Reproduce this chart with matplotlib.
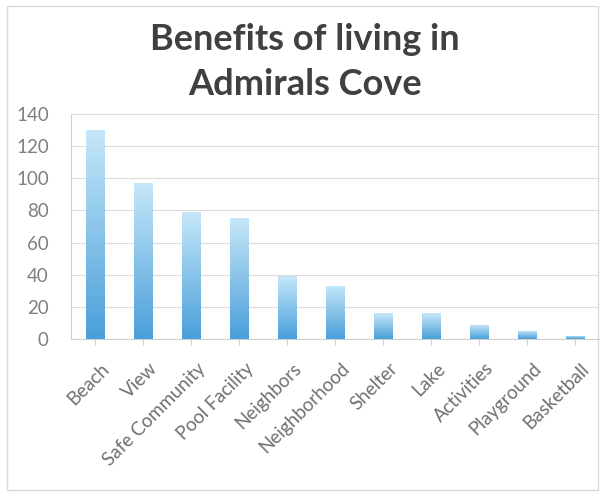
import numpy as np
import matplotlib
matplotlib.use('Agg')
import matplotlib.pyplot as plt
import matplotlib.transforms as mtransforms
from matplotlib.colors import LinearSegmentedColormap
from matplotlib.patches import Rectangle

# Data
categories = ['Beach', 'View', 'Safe Community', 'Pool Facility', 'Neighbors',
              'Neighborhood', 'Shelter', 'Lake', 'Activities', 'Playground', 'Basketball']
values = [130, 97, 79, 75, 39, 33, 16, 16, 9, 5, 2]
y_ticks = [0, 20, 40, 60, 80, 100, 120, 140]

plt.rcParams['font.family'] = ['Lato', 'DejaVu Sans']

W, H = 601, 493
fig = plt.figure(figsize=(W / 100, H / 100), dpi=100)
ax = fig.add_axes([71 / W, 1 - 339 / H, 528 / W, 225 / H])

# chart border
fig.patches.append(Rectangle((7 / W, 3 / H), 591 / W, 484 / H,
                             transform=fig.transFigure, fill=False,
                             edgecolor='#d9d9d9', linewidth=1))

x = np.arange(len(categories))
bars = ax.bar(x, values, width=0.39, color='none', edgecolor='none', zorder=3)

# vertical gradient fill, light at top and darker at bottom
cmap = LinearSegmentedColormap.from_list('blues', ['#4a9fda', '#c6e7f8'])
grad = np.linspace(0, 1, 256).reshape(-1, 1)
for b in bars:
    x0, y0 = b.get_x(), b.get_y()
    w, h = b.get_width(), b.get_height()
    im = ax.imshow(grad, cmap=cmap, origin='lower', aspect='auto',
                   extent=(x0, x0 + w, y0, y0 + h), zorder=3)
    im.set_clip_path(b)

ax.set_xlim(-0.5, len(categories) - 0.5)
ax.set_ylim(0, 140)
ax.set_yticks(y_ticks)
ax.yaxis.grid(True, color='#dcdcdc', linewidth=0.8)
ax.set_axisbelow(True)
for s in ['top', 'right']:
    ax.spines[s].set_visible(False)
ax.spines['left'].set_color('#d0d0d0')
ax.spines['bottom'].set_color('#d0d0d0')
ax.tick_params(axis='y', length=0, labelsize=13.5, labelcolor='#808080', pad=16)
ax.tick_params(axis='x', length=4, color='#d0d0d0', labelsize=13.5,
               labelcolor='#707070', pad=11)
ax.set_xticks(x)
ax.set_xticklabels(categories, rotation=45, ha='right', rotation_mode='anchor')
shift = mtransforms.ScaledTranslation(4 / 72, 0, fig.dpi_scale_trans)
for lbl in ax.get_xticklabels():
    lbl.set_transform(lbl.get_transform() + shift)

title_kw = dict(ha='center', va='baseline', fontsize=26, fontweight='bold',
                color='#404040')
fig.text(305 / W, 1 - 50 / H, 'Benefits of living in', **title_kw)
fig.text(305 / W, 1 - 95 / H, 'Admirals Cove', **title_kw)

fig.savefig('out.png', dpi=100)
